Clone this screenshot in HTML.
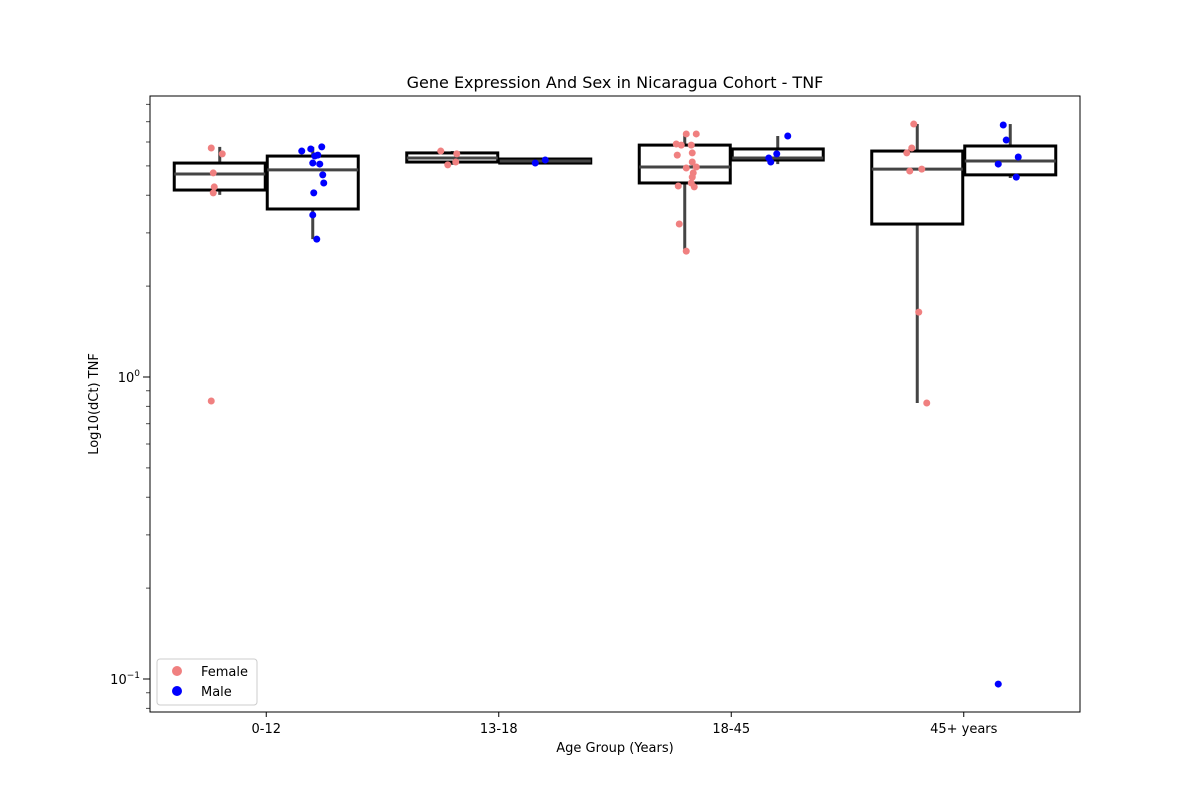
<!DOCTYPE html>
<html><head><meta charset="utf-8"><style>
body{margin:0;background:#fff}
svg text{font-family:"DejaVu Sans","Liberation Sans",sans-serif;fill:#000}
</style></head><body>
<svg id="chart" width="1200" height="800" xmlns="http://www.w3.org/2000/svg">
<rect x="0" y="0" width="1200" height="800" fill="#fff"/>
<text x="615" y="88" font-size="16" text-anchor="middle">Gene Expression And Sex in Nicaragua Cohort - TNF</text>
<text x="615" y="752" font-size="13" text-anchor="middle">Age Group (Years)</text>
<text transform="translate(98,404) rotate(-90)" font-size="13" text-anchor="middle">Log10(dCt) TNF</text>
<g id="plot"></g>
<rect x="150" y="96" width="930" height="616" fill="none" stroke="#000" stroke-width="1"/>
<g id="legend">
<rect x="157" y="659" width="100" height="46" rx="3" fill="#fff" stroke="#ccc"/>
<circle cx="177" cy="671" r="5" fill="#F08080"/>
<text x="201" y="676" font-size="13">Female</text>
<circle cx="177" cy="691" r="5" fill="#0000FF"/>
<text x="201" y="696" font-size="13">Male</text>
</g>
</svg>
<script>
const categories = ["0-12","13-18","18-45","45+ years"];
const sexes = ["Female","Male"];
// box stats [whiskerLow, q1, median, q3, whiskerHigh] per category per sex
const femaleBoxes = [[4.01,4.16,4.70,5.11,5.78],[5.04,5.15,5.31,5.52,5.60],[2.61,4.39,4.96,5.86,6.38],[0.82,3.21,4.88,5.60,6.88]];
const maleBoxes = [[2.86,3.60,4.85,5.39,5.78],[5.11,5.11,5.19,5.27,5.27],[5.07,5.23,5.31,5.69,6.28],[4.56,4.67,5.19,5.82,6.88]];
const femalePoints = [[5.73,5.48,4.74,4.26,4.07,0.833],[5.60,5.48,5.04,5.15],[6.38,6.38,5.91,5.86,5.86,5.43,5.52,5.15,4.92,4.96,4.74,4.59,4.39,4.29,4.26,3.21,2.61],[6.88,5.73,5.52,4.81,4.88,1.64,0.82]];
const femaleJitter = [[-55,-44,-53,-52,-53,-55],[-58,-42,-51,-43],[-45,-35,-55,-50,-40,-54,-39,-39,-45,-35,-38,-39,-40,-53,-37,-52,-45],[-50,-52,-57,-54,-42,-45,-37]];
const malePoints = [[5.60,5.69,5.78,5.39,5.43,5.11,5.07,4.67,4.39,4.07,3.44,2.86],[5.11,5.23],[6.28,5.48,5.31,5.15],[6.83,6.09,5.35,5.07,4.59,0.0962]];
const maleJitter = [[-11,-2,9,2,5,0,7,10,11,1,0,4],[-10,0],[10,-1,-9,-7],[-7,-4,8,-12,6,-12]];
const yTickVals = [0.1, 1];
const yTickLabels = [["10","−1"],["10","0"]];

const NS="http://www.w3.org/2000/svg";
const plot=document.getElementById('plot');
const X0=150,W=930,Y1=377,DEC=302;
const band=W/categories.length;
function xC(i){return X0+band*(i+0.5);}
function yS(v){return Y1-Math.log10(v)*DEC;}
function mk(tag,attrs){const e=document.createElementNS(NS,tag);for(const k in attrs)e.setAttribute(k,attrs[k]);plot.appendChild(e);return e;}

// y ticks
for(let d=-2;d<=1;d++){for(let m=1;m<10;m++){const v=m*Math.pow(10,d);const y=yS(v);if(y<96||y>712)continue;
 const t=mk('line',{x1:150,x2:m===1?143:146,y1:y,y2:y,stroke:'#000','stroke-width':m===1?1:0.7});
 
 }}
yTickVals.forEach((v,i)=>{const t=mk('text',{x:140,y:yS(v)+5,'font-size':13,'text-anchor':'end'});
 
 
 t.innerHTML=yTickLabels[i][0]+'<tspan dy="-6" font-size="9">'+yTickLabels[i][1]+'</tspan>';});
categories.forEach((c,i)=>{const x=xC(i);
 const l=mk('line',{x1:x,x2:x,y1:712,y2:717,stroke:'#000'});
 
 
 const t=mk('text',{x:x,y:733,'font-size':13,'text-anchor':'middle'});t.textContent=c;
 
 });

function drawBox(s,i,off,name){const cx=xC(i)+off;const bw=91;
 const w=mk('line',{x1:cx,x2:cx,y1:yS(s[0]),y2:yS(s[4]),stroke:'#444','stroke-width':3});
 
 
 const r=mk('rect',{x:cx-bw/2,y:yS(s[3]),width:bw,height:Math.max(yS(s[1])-yS(s[3]),0.5),fill:'#fff',stroke:'#000','stroke-width':3});
 
 
 const m=mk('line',{x1:cx-bw/2,x2:cx+bw/2,y1:yS(s[2]),y2:yS(s[2]),stroke:'#444','stroke-width':3});
 
 }
categories.forEach((c,i)=>{drawBox(femaleBoxes[i],i,-46.5,'female');drawBox(maleBoxes[i],i,46.5,'male');});
function drawPts(pts,jit,i,off,col,name){pts.forEach((v,k)=>{
 const p=mk('circle',{cx:xC(i)+off+jit[k],cy:yS(v),r:3.5,fill:col});
 
 });}
categories.forEach((c,i)=>{drawPts(femalePoints[i],femaleJitter[i],i,0,'#F08080','female');drawPts(malePoints[i],maleJitter[i],i,46.5,'#0000FF','male');});
</script>
</body></html>
